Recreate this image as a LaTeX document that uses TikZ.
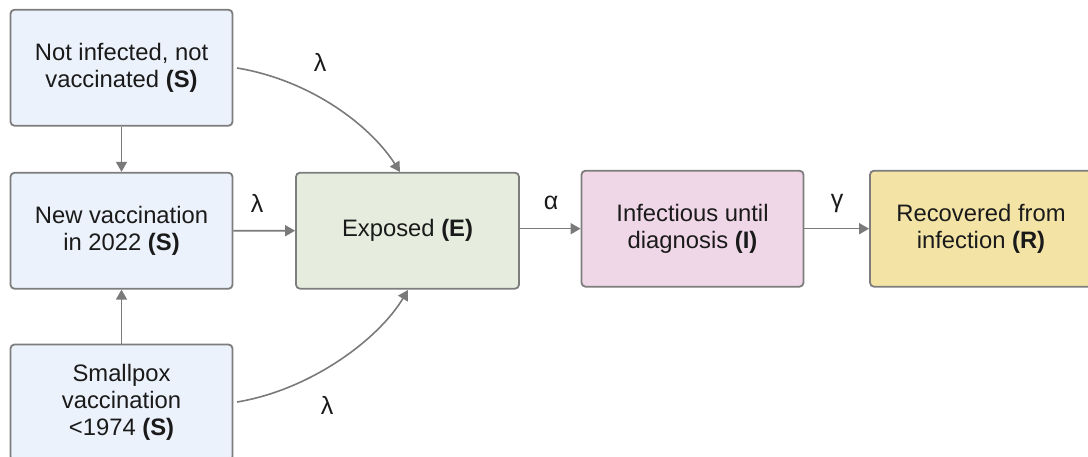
\documentclass[tikz,border=0pt]{standalone}
\usepackage{fontspec}
\setmainfont{Liberation Sans}
\usetikzlibrary{arrows.meta}
\definecolor{sfill}{HTML}{ECF2FB}
\definecolor{efill}{HTML}{E6EDDE}
\definecolor{ifill}{HTML}{F0D7E7}
\definecolor{rfill}{HTML}{F3E4A6}
\definecolor{bord}{HTML}{7D7D7D}
\definecolor{arrc}{HTML}{7A7A7A}
\definecolor{txt}{HTML}{1A1A1A}
\tikzset{
  box/.style={draw=bord, line width=1.8pt, rounded corners=4pt,
    minimum width=222pt, minimum height=116pt, align=center,
    text=txt, font=\fontsize{23.8}{26.8}\selectfont, inner sep=0pt},
  arr/.style={draw=arrc, line width=1.6pt, -{Triangle[length=10pt,width=11pt]}},
  lbl/.style={text=txt, font=\fontsize{25}{26}\selectfont, inner sep=0pt}
}
\begin{document}
\begin{tikzpicture}[x=1pt,y=-1pt]
\useasboundingbox (0,0) rectangle (1088,457);
\begin{scope}
\clip (0,0) rectangle (1088,457);
\node[box, fill=sfill] (S1) at (121.5,67.75) {Not infected, not\\vaccinated \textbf{(S)}};
\node[box, fill=sfill] (S2) at (121.5,230.75) {New vaccination\\in 2022 \textbf{(S)}};
\node[box, fill=sfill] (S3) at (121.5,402.5) {Smallpox\\vaccination\\<1974 \textbf{(S)}};
\node[box, fill=efill, minimum width=223pt] (E) at (407.5,230.7) {Exposed \textbf{(E)}};
\node[box, fill=ifill] (I) at (692.5,228.7) {Infectious until\\diagnosis \textbf{(I)}};
\node[box, fill=rfill] (R) at (981,228.7) {Recovered from\\infection \textbf{(R)}};
\end{scope}
\coordinate (c1) at (237,68);
\coordinate (c3) at (237,402);
\draw[arr] (S1.south) -- (S2.north);
\draw[arr] (S3.north) -- (S2.south);
\draw[arr] (S2.east) -- (E.west);
\draw[arr] (E.east |- I.west) -- (I.west);
\draw[arr] (I.east) -- (R.west);
\draw[arr] (c1) .. controls (310,80) and (370,125) .. (400,172);
\draw[arr] (c3) .. controls (310,390) and (378,340) .. (408,290);
\node[lbl] (l1) at (320,62) {λ};
\node[lbl] (l2) at (257,203) {λ};
\node[lbl] (l3) at (327,405) {λ};
\node[lbl] (la) at (551,203) {α};
\node[lbl] (lg) at (837,203) {γ};
\end{tikzpicture}
\end{document}
